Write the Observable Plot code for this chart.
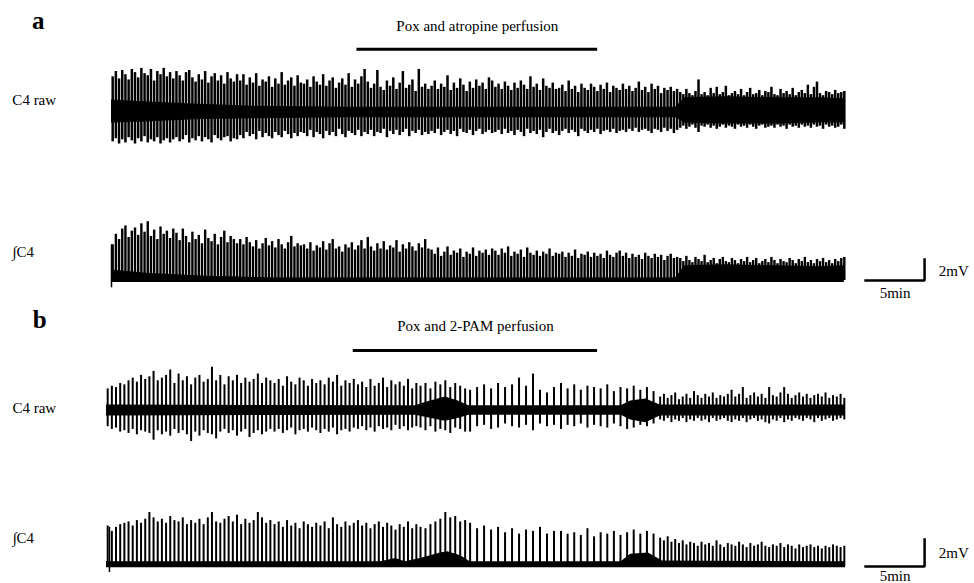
<!DOCTYPE html>
<html><head><meta charset="utf-8">
<script src="https://cdn.jsdelivr.net/npm/d3@7"></script>
<script src="https://cdn.jsdelivr.net/npm/@observablehq/plot@0.6"></script>
<style>
html,body{margin:0;padding:0;background:#fff;}
#fig{position:relative;width:974px;height:583px;overflow:hidden;background:#fff;}
#fig > div{position:absolute;left:0;}
</style></head><body><div id="fig"></div>
<script>
// ---------------- DATA ----------------
const panelLetters = ["a", "b"];
const panelTitles = ["Pox and atropine perfusion", "Pox and 2-PAM perfusion"];
const traceLabels = ["C4 raw", "∫C4"];
const scaleLabels = ["2mV", "5min"];

// Perfusion periods (min from start of recording)
const perfA = [20.8, 41.2];
const perfB = [20.9, 41.6];

// Scale bar values
const scaleMinutes = 5;
const scaleMillivolts = 2;

// Burst timing: burst index -> time (min), piecewise (read from burst spacing)
const A_burstIndex = [0, 178, 232];
const A_burstTime = [0.1, 48.2, 62.1];
const B_burstIndex = [0, 75, 85, 98, 113, 162];
const B_burstTime = [0.1, 26.6, 30.8, 38.5, 46.9, 62.5];

// Panel a, raw C4: upper spike extent (mV)
const rawA_up = [
3.4,3.9,3.2,4.0,3.6,3.1,4.1,3.8,3.3,4.2,3.7,3.5,4.1,3.0,3.9,3.6,4.2,3.4,3.8,3.2,
3.9,3.5,3.0,3.8,4.0,3.3,2.9,3.6,3.1,3.9,2.8,3.4,3.7,3.0,3.5,2.7,3.8,3.2,2.9,3.6,
3.0,3.6,2.6,3.3,2.8,3.7,2.5,3.1,2.9,3.4,2.4,3.2,2.7,3.8,2.6,3.0,3.3,2.5,3.5,2.8,
2.7,3.1,2.4,3.4,2.9,2.6,3.6,2.5,3.0,3.3,2.3,2.8,3.2,2.6,3.7,2.4,3.1,2.7,3.4,4.1,
2.9,2.3,2.7,4.0,2.4,2.1,3.0,2.5,3.3,2.2,2.8,3.9,2.3,2.6,3.1,2.0,4.1,2.4,2.7,2.2,
2.5,3.0,2.2,2.7,2.4,3.5,2.1,2.8,2.3,3.2,2.6,2.0,2.9,2.3,3.1,2.5,2.8,2.2,3.3,3.0,
2.4,2.7,2.2,2.9,2.5,2.1,2.8,2.3,3.0,2.6,2.2,3.4,2.4,2.7,2.1,3.2,2.5,2.3,2.8,2.2,
2.3,2.6,2.0,3.0,2.2,2.5,1.9,2.7,2.3,2.1,2.7,2.4,2.0,2.6,2.2,2.8,1.9,2.5,2.3,2.1,
2.7,2.2,2.5,2.0,2.3,2.9,2.1,2.4,1.9,2.7,2.2,2.5,1.8,2.3,2.1,2.4,2.0,2.2,
1.9,1.7,2.2,1.8,1.6,2.0,3.1,1.7,1.9,1.6,2.3,1.8,2.4,1.7,1.9,2.5,1.6,1.8,2.0,1.7,
2.2,1.6,1.9,2.3,1.7,1.8,2.1,1.6,2.0,1.9,2.4,1.7,1.6,2.2,1.8,2.0,1.7,2.3,1.6,1.9,
2.1,1.8,2.6,1.7,2.4,2.9,1.8,1.6,2.0,1.9,1.7,2.1,1.8,1.9,2.0
];
// Panel a, raw C4: lower spike extent (mV)
const rawA_down = [
-2.8,-2.5,-3.0,-2.6,-2.9,-2.4,-2.7,-3.0,-2.5,-2.8,-2.3,-2.9,-2.6,-2.8,-2.4,-3.0,-2.7,-2.5,-2.9,-2.6,
-2.4,-2.8,-2.6,-2.2,-2.9,-2.5,-2.7,-2.3,-2.8,-2.4,-2.6,-2.9,-2.2,-2.5,-2.7,-2.4,-2.3,-2.8,-2.5,-2.6,
-2.2,-2.5,-1.9,-2.3,-2.1,-2.6,-1.8,-2.4,-2.0,-2.3,-2.5,-1.9,-2.2,-2.4,-1.8,-2.1,-2.5,-2.0,-2.3,-1.9,
-2.0,-2.3,-1.7,-2.4,-1.9,-2.1,-2.5,-1.8,-2.2,-1.9,-2.3,-1.6,-2.1,-2.4,-1.8,-2.0,-2.2,-1.7,-2.3,-1.9,
-2.1,-1.7,-2.3,-1.9,-2.0,-1.6,-2.4,-1.8,-2.1,-1.7,-2.2,-1.9,-1.6,-2.3,-1.8,-2.0,-1.7,-2.2,-1.9,-2.1,
-1.8,-2.0,-1.6,-2.2,-1.9,-1.7,-2.1,-1.8,-2.3,-1.6,-1.9,-2.0,-1.7,-2.2,-1.8,-1.6,-2.1,-1.9,-1.7,-2.0,
-1.9,-1.7,-2.1,-1.6,-2.0,-1.8,-2.2,-1.7,-1.9,-2.3,-1.6,-2.0,-1.8,-2.1,-1.7,-2.4,-1.9,-1.6,-2.0,-1.8,
-2.2,-1.8,-1.6,-2.0,-1.7,-1.9,-2.3,-1.6,-1.8,-2.0,-1.7,-1.9,-1.6,-2.1,-1.8,-1.7,-1.9,-1.6,-2.0,-1.8,
-1.7,-1.9,-1.6,-1.8,-1.5,-1.9,-1.7,-1.6,-1.8,-2.0,-1.6,-1.7,-1.9,-1.5,-1.8,-1.6,-2.0,-1.7,
-1.5,-1.3,-1.6,-1.4,-1.2,-1.5,-1.9,-1.3,-1.4,-1.2,-1.5,-1.3,-1.6,-1.4,-1.2,-1.5,-1.3,-1.4,-1.6,-1.2,
-1.4,-1.3,-1.5,-1.2,-1.4,-1.6,-1.3,-1.2,-1.5,-1.4,-1.3,-1.5,-1.2,-1.4,-1.3,-1.6,-1.2,-1.4,-1.3,-1.5,
-1.2,-1.4,-1.3,-1.5,-1.2,-1.4,-1.3,-1.6,-1.2,-1.4,-1.3,-1.5,-1.4,-1.2,-1.6
];
// Panel a, integrated C4 burst amplitude (mV)
const intA = [
3.4,4.4,3.9,4.9,5.2,4.1,4.7,5.0,4.3,5.4,4.6,5.6,4.2,4.8,3.9,5.1,4.4,4.7,4.0,4.9,
4.5,3.8,4.9,4.2,3.6,4.6,3.9,4.3,3.5,4.8,4.0,3.7,4.4,3.4,4.1,4.7,3.6,4.2,3.9,3.5,
3.9,3.4,4.1,3.6,3.2,3.8,3.0,3.5,4.0,3.3,3.7,3.1,3.9,3.4,3.0,3.6,4.2,3.2,3.5,3.3,
3.4,3.0,3.6,2.8,3.3,3.1,3.7,2.9,3.5,3.9,3.0,3.2,2.7,3.4,3.1,3.6,2.9,3.3,3.8,3.0,
4.1,3.2,2.8,3.5,3.0,3.7,2.9,3.3,3.1,3.8,2.7,3.4,3.0,3.6,3.2,2.8,3.5,3.1,3.9,3.0,
2.9,2.5,3.1,2.3,2.7,3.2,2.4,2.8,2.6,3.0,2.2,2.7,2.5,3.1,2.3,2.8,2.6,2.9,2.4,3.0,
2.8,2.4,3.0,2.6,3.2,2.3,2.7,2.5,2.9,2.2,3.1,2.6,2.4,2.8,2.3,2.7,2.5,3.0,2.3,2.6,
2.5,2.7,2.2,2.6,2.3,2.9,2.1,2.5,2.4,2.7,2.2,2.6,2.3,2.5,2.1,2.8,2.4,2.2,2.6,2.8,
2.3,2.6,2.1,2.5,2.2,2.4,2.0,2.6,2.3,2.1,2.5,2.2,2.4,1.9,2.3,2.5,2.1,2.2,
2.1,1.8,2.3,1.9,1.7,2.2,2.0,1.8,2.4,1.7,1.9,2.1,1.6,2.0,2.2,1.8,1.7,2.1,1.9,1.6,
2.0,1.8,2.2,1.7,1.9,2.1,1.6,1.8,2.0,1.7,2.2,1.9,1.6,2.0,1.8,1.7,2.1,1.9,1.6,2.0,
1.8,2.2,1.7,1.9,1.6,2.0,1.8,2.1,1.7,1.9,1.6,2.0,1.8,2.1,2.2
];
const intA_edge = [-0.7, 3.4];

// Panel a dense activity bands (time, upper, lower in mV)
const rawA_coreT  = [0, 3, 7, 12, 20, 47.8, 48.6, 52, 56, 60, 62.1];
const rawA_coreHi = [1.2, 1.0, 0.8, 0.6, 0.5, 0.5, 1.4, 1.5, 1.4, 1.4, 1.3];
const rawA_coreLo = [-1.0, -0.9, -0.7, -0.6, -0.5, -0.5, -1.0, -1.1, -1.1, -1.0, -1.0];
const intA_coreT  = [0, 3, 8, 14, 47.8, 48.6, 52, 56, 60, 62.1];
const intA_coreHi = [1.0, 0.7, 0.4, 0.25, 0.25, 1.4, 1.5, 1.4, 1.3, 1.4];
const intA_coreLo = -0.2;

// Panel b, raw C4: upper spike extent (mV)
const rawB_up = [
1.6,1.8,1.7,2.0,1.9,2.2,2.4,2.1,2.6,2.3,
2.5,2.9,2.2,2.4,2.6,3.0,2.0,2.7,2.2,2.5,
1.9,2.4,2.6,2.1,2.3,3.2,2.2,2.6,1.9,2.5,
2.2,2.6,2.0,2.4,2.1,2.3,2.7,2.0,2.4,2.2,
2.0,2.3,1.8,2.5,2.1,1.9,2.4,2.2,1.8,2.3,
2.0,2.2,1.9,2.4,2.1,2.6,1.8,2.2,2.0,2.3,
1.9,2.1,1.7,2.3,1.8,2.0,2.4,1.7,2.2,1.9,2.1,1.8,2.3,1.6,2.0,
1.8,2.0,1.6,2.1,1.9,2.2,1.7,2.0,1.8,1.6,
1.5,1.7,1.9,1.6,2.0,1.7,1.9,2.4,1.8,2.7,1.5,1.3,1.7,
2.0,1.6,1.9,1.5,1.8,1.7,1.6,1.9,1.4,1.7,1.6,1.8,1.5,1.7,1.4,
1.0,1.2,0.9,1.1,1.3,0.8,1.0,1.2,0.9,1.4,
1.1,0.9,1.2,1.0,1.3,0.9,1.1,1.0,1.2,1.5,
1.0,1.2,1.7,0.9,1.1,1.3,1.0,1.2,0.9,1.7,
1.1,1.0,1.3,1.7,1.2,0.9,1.1,1.3,1.0,1.2,
0.9,1.1,1.2,1.0,1.3,0.9,1.1,1.0,1.2,0.9
];
// Panel b, raw C4: lower spike extent (mV)
const rawB_down = [
-1.2,-1.4,-1.3,-1.6,-1.5,-1.7,-1.4,-1.8,-1.5,-1.6,
-1.7,-2.2,-1.5,-1.8,-1.6,-1.9,-1.4,-1.7,-1.5,-1.8,
-2.3,-1.6,-1.9,-1.5,-1.7,-1.8,-2.1,-1.6,-1.4,-1.7,
-1.5,-1.9,-1.6,-1.4,-2.0,-1.7,-1.5,-1.8,-1.6,-1.4,
-1.6,-1.4,-1.7,-1.5,-1.3,-1.8,-1.5,-1.4,-1.6,-1.3,
-1.5,-1.7,-1.4,-1.6,-1.3,-1.8,-1.5,-1.4,-1.6,-1.3,
-1.4,-1.2,-1.5,-1.3,-1.6,-1.2,-1.4,-1.3,-1.5,-1.1,-1.4,-1.2,-1.5,-1.3,-1.2,
-1.3,-1.5,-1.2,-1.6,-1.4,-1.5,-1.7,-1.3,-1.4,-1.6,
-1.6,-1.2,-1.1,-1.4,-1.3,-1.0,-1.2,-1.3,-1.1,-1.5,-1.0,-1.2,-1.1,
-1.4,-1.1,-1.2,-1.0,-1.3,-1.1,-1.2,-1.3,-1.0,-1.2,-1.4,-1.3,-1.1,-1.2,-1.0,
-0.7,-0.8,-0.6,-0.9,-0.7,-0.8,-0.6,-0.9,-0.7,-0.8,
-0.6,-0.8,-0.7,-0.9,-0.6,-0.8,-0.7,-0.6,-0.8,-0.9,
-0.7,-0.8,-0.6,-0.9,-0.7,-0.6,-0.8,-0.7,-0.9,-1.0,
-0.7,-0.8,-0.6,-0.9,-0.7,-0.8,-0.6,-0.7,-0.8,-0.6,
-0.7,-0.9,-0.6,-0.8,-0.7,-0.6,-0.8,-0.7,-0.6,-0.7
];
// Panel b, integrated C4 burst amplitude (mV)
const intB = [
3.0,2.6,2.9,3.1,3.2,3.3,3.0,3.4,3.2,3.5,
4.0,3.6,3.3,3.5,3.2,3.7,3.4,3.3,3.6,3.1,
3.4,3.2,3.5,3.1,3.6,4.0,3.3,3.2,3.5,3.7,
3.3,3.8,3.1,3.5,3.2,3.4,4.0,3.6,3.2,3.4,
3.1,3.3,2.9,3.4,3.0,3.2,2.8,3.3,3.1,2.9,
3.2,3.0,3.3,2.8,3.6,3.1,2.9,3.3,3.0,3.2,
3.4,3.0,3.2,2.8,3.1,3.3,2.9,3.2,3.0,2.7,3.1,2.9,3.3,2.8,3.1,
2.9,2.8,3.1,3.3,3.5,4.0,3.6,3.7,3.3,3.4,
3.2,2.8,3.0,2.7,2.9,2.5,2.8,2.4,2.7,2.6,2.9,2.4,2.6,
2.6,2.4,2.5,2.3,2.8,2.2,2.5,2.4,2.6,2.3,2.5,2.7,2.4,2.6,2.4,
2.1,1.9,2.2,1.8,2.0,1.7,1.9,1.6,1.8,1.7,
1.5,1.8,1.6,1.7,1.5,1.9,1.6,1.4,1.7,1.6,
1.5,1.8,1.6,1.4,1.7,1.5,1.6,1.8,1.5,1.4,
1.6,1.5,1.7,1.4,1.6,1.5,1.3,1.6,1.4,1.5,
1.6,1.4,1.5,1.3,1.5,1.4,1.6,1.5,1.4,1.5
];
const intB_edge = [-0.45, 2.9];

// Panel b dense activity bands
const rawB_coreT  = [0, 26.2, 27.0, 28.7, 29.8, 30.7, 43.6, 44.4, 45.7, 46.9, 62.6];
const rawB_coreHi = [0.4, 0.35, 0.6, 1.0, 0.7, 0.35, 0.35, 0.7, 0.85, 0.4, 0.4];
const rawB_coreLo = [-0.4, -0.35, -0.5, -0.8, -0.6, -0.35, -0.35, -0.7, -0.9, -0.4, -0.4];
const intB_coreT  = [0, 23.2, 24.5, 25.3, 26.6, 28.3, 28.9, 30.0, 30.8, 43.6, 44.4, 45.9, 47.1, 62.6];
const intB_coreHi = [0.35, 0.35, 0.6, 0.35, 0.6, 1.0, 1.1, 0.8, 0.35, 0.35, 0.9, 1.0, 0.4, 0.35];
const intB_coreLo = -0.1;

// ---------------- BUILD ----------------
const FONT = '"Liberation Serif","Times New Roman",Times,serif';
const fig = document.getElementById("fig");

function bursts(idx, time, up, down, integ) {
  const n = Math.min(up.length, down.length, integ.length);
  const t = d3.scaleLinear().domain(idx).range(time);
  return d3.range(n).map(i => ({t: t(i), up: up[i], down: down[i], int: integ[i]}));
}
function core(T, hi, lo) {
  return T.map((t, i) => ({t, hi: hi[i], lo: Array.isArray(lo) ? lo[i] : lo}));
}
function label(text, x, y, opts = {}) {
  return Plot.text([text], {x, y, text: d => d, fontSize: 15, fontFamily: FONT, fill: "#000", ...opts});
}
function trace({top, height, zeroPx, pxPerMV, xMax, marginLeft, marks}) {
  const svg = Plot.plot({
    width: 974, height,
    marginTop: 0, marginBottom: 0, marginLeft, marginRight: 129,
    x: {domain: [0, xMax], axis: null},
    y: {domain: [-(height - zeroPx) / pxPerMV, zeroPx / pxPerMV], axis: null},
    style: {fontFamily: FONT, background: "transparent", overflow: "visible", color: "#000"},
    marks
  });
  const div = document.createElement("div");
  div.style.top = top + "px";
  div.appendChild(svg);
  fig.appendChild(div);
}

const BA = bursts(A_burstIndex, A_burstTime, rawA_up, rawA_down, intA);
const BB = bursts(B_burstIndex, B_burstTime, rawB_up, rawB_down, intB);

function scaleBar(start) {
  return [{x: start, y: 0}, {x: start + scaleMinutes, y: 0}, {x: start + scaleMinutes, y: scaleMillivolts}];
}

const pxA = 10.5, pxB = 13.5;
// Panel a, raw
trace({
  top: 0, height: 160, zeroPx: 112, pxPerMV: pxA, xMax: 62.2, marginLeft: 111,
  marks: [
    Plot.areaY(core(rawA_coreT, rawA_coreHi, rawA_coreLo), {x: "t", y1: "lo", y2: "hi", fill: "#000", curve: "linear"}),
    Plot.ruleX(BA, {x: "t", y1: "down", y2: "up", stroke: "#000", strokeWidth: 2.5}),
    Plot.ruleY([perfA], {x1: d => d[0], x2: d => d[1], y: 6.03, stroke: "#000", strokeWidth: 3}),
    label(panelTitles[0], (perfA[0] + perfA[1]) / 2, 8.2),
    label(panelLetters[0], -6.2, 8.7, {fontSize: 25, fontWeight: "bold"}),
    label(traceLabels[0], -8.4, 1.2, {textAnchor: "start"})
  ]
});
// Panel a, integrated
trace({
  top: 160, height: 140, zeroPx: 120, pxPerMV: pxA, xMax: 62.2, marginLeft: 111,
  marks: [
    Plot.areaY(core(intA_coreT, intA_coreHi, intA_coreLo), {x: "t", y1: "lo", y2: "hi", fill: "#000", curve: "linear"}),
    Plot.ruleX(BA, {x: "t", y1: 0, y2: "int", stroke: "#000", strokeWidth: 2.4}),
    Plot.ruleX([intA_edge], {x: 0, y1: d => d[0], y2: d => d[1], stroke: "#000", strokeWidth: 1.5}),
    Plot.line(scaleBar(63.9), {x: "x", y: "y", stroke: "#000", strokeWidth: 2.5, strokeLinejoin: "miter", strokeLinecap: "square"}),
    label(scaleLabels[0], 70.1, 0.9, {textAnchor: "start"}),
    label(scaleLabels[1], 63.9 + scaleMinutes / 2, -1.2),
    label(traceLabels[1], -8.4, 2.65, {textAnchor: "start"})
  ]
});
// Panel b, raw
trace({
  top: 300, height: 160, zeroPx: 110, pxPerMV: pxB, xMax: 62.6, marginLeft: 106,
  marks: [
    Plot.areaY(core(rawB_coreT, rawB_coreHi, rawB_coreLo), {x: "t", y1: "lo", y2: "hi", fill: "#000", curve: "linear"}),
    Plot.ruleX(BB, {x: "t", y1: "down", y2: "up", stroke: "#000", strokeWidth: 2.0}),
    Plot.ruleY([perfB], {x1: d => d[0], x2: d => d[1], y: 4.44, stroke: "#000", strokeWidth: 3}),
    label(panelTitles[1], (perfB[0] + perfB[1]) / 2, 6.22),
    label(panelLetters[1], -5.65, 6.7, {fontSize: 25, fontWeight: "bold"}),
    label(traceLabels[0], -7.97, 0.15, {textAnchor: "start"})
  ]
});
// Panel b, integrated
trace({
  top: 460, height: 123, zeroPx: 106, pxPerMV: pxB, xMax: 62.6, marginLeft: 106,
  marks: [
    Plot.areaY(core(intB_coreT, intB_coreHi, intB_coreLo), {x: "t", y1: "lo", y2: "hi", fill: "#000", curve: "linear"}),
    Plot.ruleX(BB, {x: "t", y1: 0, y2: "int", stroke: "#000", strokeWidth: 2.0}),
    Plot.ruleX([intB_edge], {x: 0.25, y1: d => d[0], y2: d => d[1], stroke: "#000", strokeWidth: 1.5}),
    Plot.line(scaleBar(64.3), {x: "x", y: "y", stroke: "#000", strokeWidth: 2.5, strokeLinejoin: "miter", strokeLinecap: "square"}),
    label(scaleLabels[0], 70.5, 0.96, {textAnchor: "start"}),
    label(scaleLabels[1], 64.3 + scaleMinutes / 2, -0.72),
    label(traceLabels[1], -7.97, 2.07, {textAnchor: "start"})
  ]
});
</script></body></html>
